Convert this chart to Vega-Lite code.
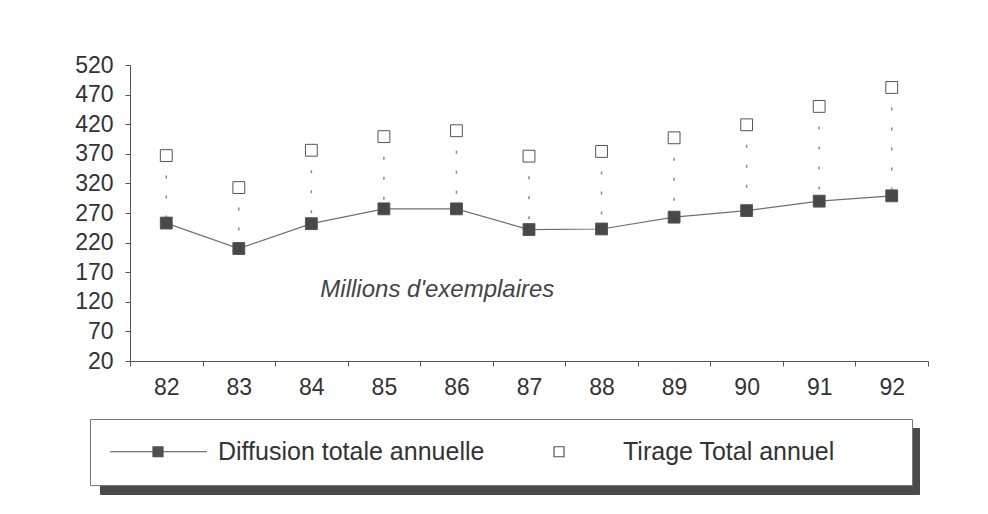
{
  "$schema": "https://vega.github.io/schema/vega-lite/v6.json",
  "width": 798,
  "height": 296,
  "autosize": {"type": "none"},
  "padding": {"left": 130, "top": 65, "right": 60, "bottom": 153},
  "background": "white",
  "config": {
    "view": {"stroke": null},
    "font": "Liberation Sans",
    "axis": {"labelFont": "Liberation Sans", "labelFontSize": 23, "labelColor": "#333333", "domainColor": "#555555", "tickColor": "#555555", "tickSize": 5, "grid": false, "title": null, "labelOverlap": false}
  },
  "resolve": {"scale": {"shape": "independent"}},
  "datasets": {
    "stats": [
      {"year": "82", "Diffusion totale annuelle": 253, "Tirage Total annuel": 367},
      {"year": "83", "Diffusion totale annuelle": 210, "Tirage Total annuel": 313},
      {"year": "84", "Diffusion totale annuelle": 252, "Tirage Total annuel": 376},
      {"year": "85", "Diffusion totale annuelle": 277, "Tirage Total annuel": 399},
      {"year": "86", "Diffusion totale annuelle": 277, "Tirage Total annuel": 409},
      {"year": "87", "Diffusion totale annuelle": 242, "Tirage Total annuel": 366},
      {"year": "88", "Diffusion totale annuelle": 243, "Tirage Total annuel": 374},
      {"year": "89", "Diffusion totale annuelle": 263, "Tirage Total annuel": 397},
      {"year": "90", "Diffusion totale annuelle": 274, "Tirage Total annuel": 419},
      {"year": "91", "Diffusion totale annuelle": 290, "Tirage Total annuel": 450},
      {"year": "92", "Diffusion totale annuelle": 299, "Tirage Total annuel": 482}
    ]
  },
  "data": {"name": "stats"},
  "encoding": {
    "x": {
      "field": "year",
      "type": "ordinal",
      "scale": {"type": "band", "paddingInner": 0, "paddingOuter": 0},
      "axis": {"title": null, "labelAngle": 0, "tickBand": "extent", "labelPadding": 10}
    }
  },
  "layer": [
    {
      "mark": {"type": "rule", "strokeDash": [3, 17], "color": "#8a8a8a", "strokeWidth": 1.5},
      "encoding": {
        "y": {
          "field": "Tirage Total annuel",
          "type": "quantitative",
          "scale": {"domain": [20, 520], "nice": false, "zero": false},
          "axis": {"title": null, "values": [20, 70, 120, 170, 220, 270, 320, 370, 420, 470, 520], "tickCount": 11, "labelOverlap": false, "labelPadding": 12}
        },
        "y2": {"field": "Diffusion totale annuelle"}
      }
    },
    {
      "mark": {"type": "line", "color": "#707070", "strokeWidth": 1.2},
      "encoding": {"y": {"field": "Diffusion totale annuelle", "type": "quantitative"}}
    },
    {
      "transform": [{"fold": ["Diffusion totale annuelle", "Tirage Total annuel"], "as": ["serie", "v"]}],
      "mark": {"type": "point", "opacity": 0},
      "encoding": {
        "y": {"field": "v", "type": "quantitative"},
        "shape": {
          "field": "serie",
          "type": "nominal",
          "scale": {"range": ["M-2.5,0H6.1M8.1,0H16.9M6.1,-1H8.1V1H6.1Z", "M5.3,-1H7.3V1H5.3ZM72.3,0"]},
          "legend": {
            "title": null, "orient": "none", "legendX": -30, "legendY": 363,
            "direction": "horizontal", "columns": 2, "columnPadding": 30, "padding": 20,
            "fillColor": "#4a4a4a", "strokeColor": "#4a4a4a",
            "labelFontSize": 25, "labelFont": "Liberation Sans", "labelColor": "#4a4a4a", "labelOffset": 83, "labelLimit": 500,
            "symbolSize": 100, "symbolOpacity": 0, "symbolFillColor": "#4a4a4a", "symbolStrokeColor": "#4a4a4a"
          }
        }
      }
    },
    {
      "transform": [{"fold": ["Diffusion totale annuelle", "Tirage Total annuel"], "as": ["series", "value"]}],
      "mark": {"type": "point", "opacity": 0},
      "encoding": {
        "y": {"field": "value", "type": "quantitative"},
        "shape": {
          "field": "series",
          "type": "nominal",
          "scale": {"range": ["M-2.5,0H6.1M8.1,0H16.9M6.1,-1H8.1V1H6.1ZM6.1,-0.8H8.1M6.1,-0.6H8.1M6.1,-0.4H8.1M6.1,-0.2H8.1M6.1,0H8.1M6.1,0.2H8.1M6.1,0.4H8.1M6.1,0.6H8.1M6.1,0.8H8.1", "M5.3,-1H7.3V1H5.3ZM72.3,0"]},
          "legend": {
            "title": null, "orient": "none", "legendX": -40, "legendY": 354,
            "direction": "horizontal", "columns": 2, "columnPadding": 30, "padding": 20,
            "fillColor": "#ffffff", "strokeColor": "#777777",
            "labelFontSize": 25, "labelFont": "Liberation Sans", "labelColor": "#333333", "labelOffset": 83, "labelLimit": 500,
            "symbolSize": 100, "symbolStrokeWidth": 1.2, "symbolFillColor": "#ffffff", "symbolStrokeColor": "#505050", "symbolOpacity": 1
          }
        }
      }
    },
    {
      "mark": {"type": "square", "size": 140, "fill": "#484848", "stroke": "#555555", "strokeWidth": 1, "opacity": 1},
      "encoding": {"y": {"field": "Diffusion totale annuelle", "type": "quantitative"}}
    },
    {
      "mark": {"type": "square", "size": 140, "fill": "#ffffff", "stroke": "#555555", "strokeWidth": 1, "opacity": 1},
      "encoding": {"y": {"field": "Tirage Total annuel", "type": "quantitative"}}
    },
    {
      "data": {"values": [{}]},
      "mark": {"type": "text", "text": "Millions d'exemplaires", "fontStyle": "italic", "fontSize": 24, "font": "Liberation Sans", "align": "left", "baseline": "middle", "dx": 9, "color": "#444444"},
      "encoding": {"x": {"datum": "84"}, "y": {"datum": 140}}
    }
  ]
}
